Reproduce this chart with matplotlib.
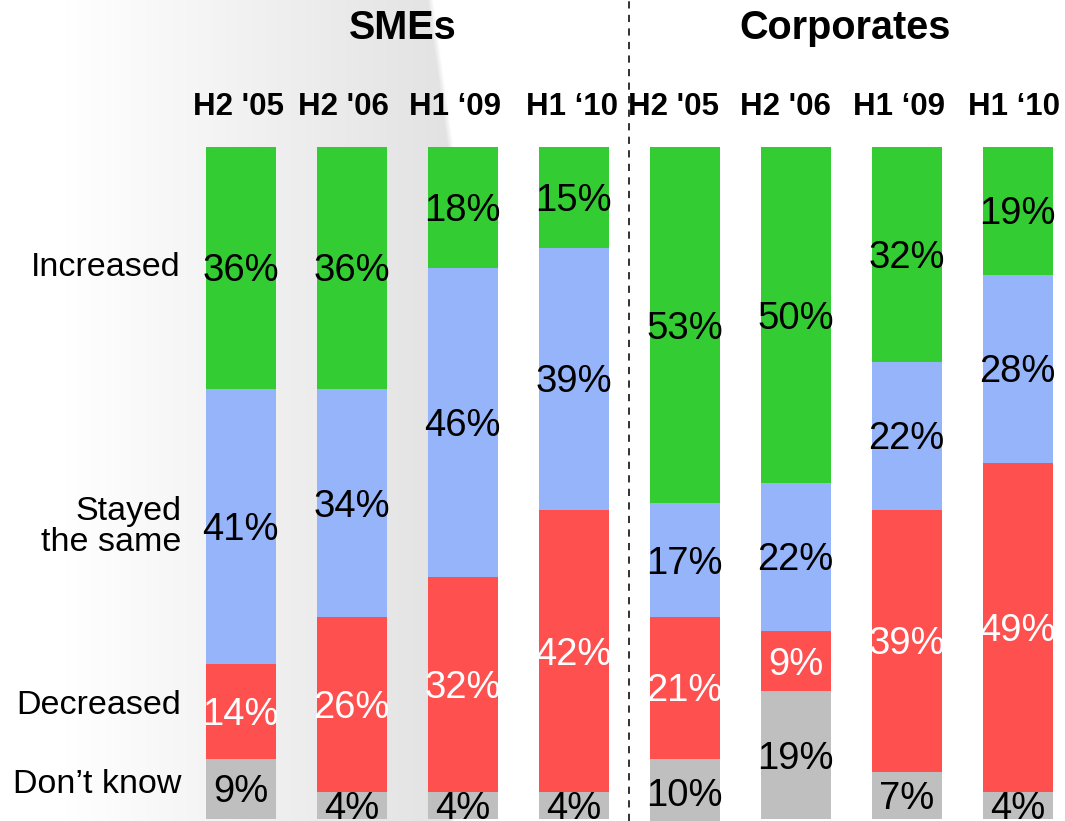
import numpy as np
import matplotlib
matplotlib.use("Agg")
import matplotlib.pyplot as plt

plt.rcParams['font.family'] = ['Liberation Sans', 'DejaVu Sans']

# ---- data -------------------------------------------------------------
groups = ["SMEs", "Corporates"]
periods = ["H2 '05", "H2 '06", "H1 \u201809", "H1 \u201810",
           "H2 '05", "H2 '06", "H1 \u201809", "H1 \u201810"]
categories = ["Increased", "Stayed\nthe same", "Decreased", "Don\u2019t know"]

increased = [36, 36, 18, 15, 53, 50, 32, 19]
stayed    = [41, 34, 46, 39, 17, 22, 22, 28]
decreased = [14, 26, 32, 42, 21, 9, 39, 49]
dont_know = [9, 4, 4, 4, 10, 19, 7, 4]

series = [increased, stayed, decreased, dont_know]
colors = ["#33cc33", "#95b4fa", "#ff5050", "#bfbfbf"]
text_colors = ["black", "black", "white", "black"]

# ---- figure geometry (pixels) ----------------------------------------
W, H = 1065, 821
DPI = 100
x0_px, step_px = 240.5, 111.0        # first bar centre, bar spacing
top_px, base_px = 147.0, 819.0       # 100% line and 0% line
ppu = (base_px - top_px) / 100.0     # pixels per percentage point


def px_x(p):
    return (p - x0_px) / step_px


def px_y(p):
    return (base_px - p) / ppu


fig = plt.figure(figsize=(W / DPI, H / DPI), dpi=DPI)

# soft grey backdrop on the left with a curved, slightly blurred edge
bg = fig.add_axes([0, 0, 1, 1], zorder=0)
bg.set_axis_off()
yy, xx = np.mgrid[0:H, 0:W]
shade = 255 - np.clip(xx - 65, 0, None) * 0.075
edge = 430 + 22 * np.clip(yy / 160.0, 0, 1)
blend = np.clip((xx - edge) / 6.0 + 0.5, 0, 1)
shade = shade * (1 - blend) + 255 * blend
shade = np.clip(shade, 0, 255) / 255.0
img = np.dstack([shade, shade, shade])
bg.imshow(img, extent=(0, W, H, 0), aspect="auto", interpolation="bilinear")
bg.set_xlim(0, W)
bg.set_ylim(H, 0)

ax = fig.add_axes([0, 0, 1, 1], zorder=1)
ax.patch.set_alpha(0)
ax.set_axis_off()
ax.set_xlim(px_x(0), px_x(W))
ax.set_ylim(px_y(H), px_y(0))

x = np.arange(len(periods))
bar_w = 70.0 / step_px

# stack from the top (100%) downward
top = np.full(len(periods), 100.0)
for vals, col, tcol in zip(series, colors, text_colors):
    vals = np.asarray(vals, dtype=float)
    bottom = top - vals
    ax.bar(x, vals, bottom=bottom, width=bar_w, color=col, linewidth=0, zorder=2)
    centers = bottom + vals / 2
    for xi, yc, v in zip(x, centers, vals):
        ax.text(xi, yc - 13.5 / ppu, f"{int(v)}%", ha="center", va="baseline",
                fontsize=27.5, color=tcol, zorder=3)
    top = bottom

# divider between the two groups
ax.axvline(3.5, color="#222222", linewidth=1.3, linestyle=(0, (4, 3.5)), zorder=1)

# group titles
title_x = [403, 845]
for g, tx in zip(groups, title_x):
    ax.text(px_x(tx), px_y(28), g, ha="center", va="center",
            fontsize=28.5, fontweight="bold")

# period headers
header_x = [238.5, 343, 455, 572, 673, 785, 899, 1014]
for p, hx in zip(periods, header_x):
    ax.text(px_x(hx), px_y(107), p, ha="center", va="center",
            fontsize=22.5, fontweight="bold")

# row labels
label_y = [267, 527, 705, 784]
for c, ly in zip(categories, label_y):
    ax.text(px_x(181), px_y(ly), c, ha="right", va="center",
            fontsize=24.5, linespacing=1.0, multialignment="right")

fig.savefig("out.png", dpi=DPI)
